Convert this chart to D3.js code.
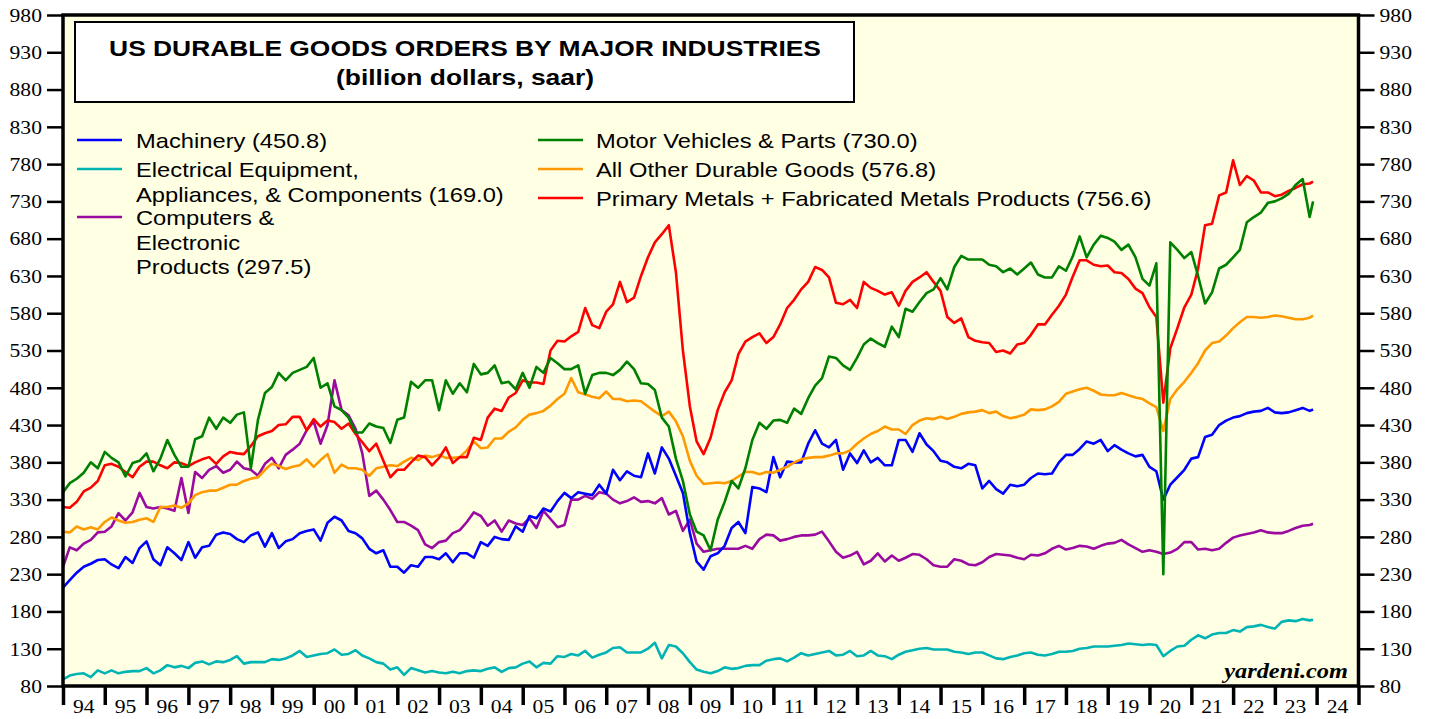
<!DOCTYPE html>
<html>
<head>
<meta charset="utf-8">
<script src="https://cdn.jsdelivr.net/npm/d3@7"></script>
<style>
  body { margin: 0; background: #fff; }
  svg { display: block; }
</style>
</head>
<body>
<svg id="chart"></svg>
<script>
// Readings: one value every two months (Jan, Mar, May, Jul, Sep, Nov)
// from 1994 to 2023, six per row = one year per row, and a last value for Dec 2023.
const machinery = [
  212, 222, 232, 240, 244, 249,
  250, 243, 238, 253, 245, 265,
  274, 250, 242, 266, 258, 249,
  273, 252, 266, 268, 283, 286,
  284, 277, 273, 282, 286, 267,
  285, 265, 274, 277, 285, 288,
  290, 275, 299, 307, 302, 288,
  285, 278, 264, 258, 262, 240,
  240, 232, 242, 240, 253, 253,
  250, 258, 246, 258, 258, 252,
  273, 268, 280, 277, 276, 294,
  287, 308, 305, 318, 314, 328,
  339, 332, 340, 338, 336, 350,
  338, 370, 356, 368, 362, 360,
  392, 365, 400, 385, 362, 339,
  285, 247, 236, 254, 258, 268,
  292, 300, 285, 347, 345, 340,
  387, 360, 381, 380, 380, 405,
  423, 405, 400, 410, 370, 392,
  379, 396, 380, 386, 376, 376,
  410, 410, 394, 419, 404, 395,
  382, 380, 374, 372, 378, 376,
  345, 355, 344, 338, 350, 348,
  350, 359, 365, 364, 365, 380,
  390, 390, 398, 408, 405, 410,
  395, 403, 397, 392, 388, 390,
  374, 368, 330, 350, 360, 370,
  385, 387, 414, 417, 430, 436,
  440, 442, 446, 448, 449, 453,
  447, 446, 447, 450, 453, 449,
  450.8
];
const electrical = [
  89, 94, 96, 97, 92, 101,
  97, 101, 97, 99, 100, 100,
  104, 97, 101, 108, 105, 107,
  104, 111, 113, 109, 113, 112,
  115, 120, 110, 112, 112, 112,
  116, 115, 117, 121, 127, 119,
  121, 123, 124, 129, 122, 123,
  128, 121, 117, 112, 110, 102,
  105, 95, 104, 101, 98, 100,
  98, 97, 99, 97, 100, 101,
  100, 103, 105, 99, 104, 105,
  110, 113, 105, 111, 110, 120,
  119, 123, 121, 127, 118, 122,
  125, 131, 132, 125, 125, 125,
  130, 138, 117, 135, 133, 124,
  112, 102, 99, 97, 100, 105,
  103, 104, 107, 108, 108, 114,
  116, 117, 113, 118, 124, 121,
  123, 125, 127, 121, 122, 127,
  120, 121, 127, 121, 120, 116,
  122, 126, 128, 130, 131, 129,
  129, 129, 126, 125, 123, 125,
  125, 121, 117, 116, 119, 121,
  124, 125, 122, 121, 123, 126,
  126, 127, 130, 131, 133, 133,
  133, 134, 135, 137, 136, 135,
  136, 135, 120, 127, 133, 134,
  142, 148, 144, 149, 151, 151,
  155, 153, 159, 160, 162, 159,
  157, 166, 168, 167, 170, 168,
  169.0
];
const computers = [
  240, 266, 262, 271, 276, 286,
  287, 294, 312, 302, 313, 339,
  320, 318, 320, 318, 315, 359,
  312, 367, 359, 370, 375, 366,
  370, 381, 372, 370, 362, 378,
  386, 372, 390, 397, 405, 423,
  435, 405, 430, 490, 450, 443,
  425, 392, 335, 342, 330, 316,
  300, 300, 295, 289, 270, 265,
  273, 275, 285, 289, 300, 313,
  308, 295, 302, 287, 302, 298,
  296, 305, 292, 315, 304, 293,
  296, 330, 330, 335, 331, 340,
  338, 330, 325, 328, 333, 327,
  328, 325, 332, 310, 315, 288,
  303, 271, 260, 262, 264, 264,
  264, 264, 268, 264, 277, 283,
  282, 275, 277, 280, 282, 282,
  283, 287, 274, 260, 252, 255,
  260, 243, 248, 258, 247, 255,
  248, 252, 257, 256, 250, 242,
  240, 240, 250, 248, 243, 242,
  246, 253, 257, 256, 255, 252,
  250, 256, 255, 258, 264, 268,
  263, 265, 268, 267, 264, 268,
  271, 272, 276, 270, 265, 260,
  262, 260, 257, 259, 264, 273,
  273, 263, 264, 262, 264, 272,
  279, 282, 284, 286, 289, 286,
  285, 285, 288, 292, 295, 296,
  297.5
];
const motorVehicles = [
  340, 352, 358, 366, 380, 372,
  394, 386, 380, 361, 379, 382,
  392, 368, 385, 410, 390, 374,
  374, 411, 415, 440, 425, 440,
  433, 444, 447, 372, 437, 473,
  481, 500, 490, 500, 504, 508,
  520, 480, 486, 455, 450, 440,
  420, 420, 432, 428, 426, 406,
  437, 440, 488, 480, 490, 490,
  450, 490, 472, 486, 474, 512,
  498, 500, 510, 486, 488, 478,
  500, 480, 508, 500, 520, 513,
  505, 505, 510, 472, 497, 500,
  500, 497, 504, 515, 505, 486,
  485, 477, 440, 428, 385, 355,
  310, 287, 282, 262, 303, 327,
  355, 345, 372, 410, 433, 425,
  436, 437, 433, 452, 445, 466,
  483, 493, 522, 520, 510, 504,
  520, 538, 546, 540, 535, 562,
  548, 586, 582, 595, 607, 612,
  627, 612, 642, 657, 652, 652,
  652, 645, 643, 635, 640, 632,
  640, 648, 632, 628, 628, 643,
  637, 656, 683, 655, 672, 684,
  681, 676, 665, 672, 655, 626,
  617, 647, 230, 675, 665, 654,
  662, 630, 593, 608, 640, 645,
  655, 665, 702, 709, 715, 728,
  730, 734, 740, 752, 760, 709,
  730.0
];
const allOther = [
  287, 286, 294, 290, 293, 290,
  300, 306, 302, 299, 300, 303,
  305, 300, 320, 320, 322, 319,
  325, 336, 340, 342, 342, 346,
  350, 350, 355, 358, 360, 370,
  378, 375, 371, 374, 376, 384,
  374, 383, 391, 366, 377, 372,
  372, 370, 362, 372, 374, 376,
  375, 381, 386, 383, 389, 387,
  390, 386, 386, 387, 396, 408,
  399, 400, 412, 412, 421, 427,
  437, 444, 446, 449, 456, 465,
  472, 493, 474, 471, 468, 466,
  475, 465, 465, 462, 463, 462,
  455, 448, 442, 448, 435, 415,
  382, 362, 351, 352, 353, 352,
  355, 361, 367, 367, 364, 367,
  366, 370, 374, 380, 384, 386,
  387, 387, 389, 392, 392, 396,
  405, 412, 418, 422, 428, 424,
  424, 418, 430, 436, 439, 438,
  441, 438, 441, 445, 447, 448,
  450, 446, 448, 442, 439, 441,
  444, 451, 450, 451, 455, 461,
  472, 475, 478, 480, 476, 471,
  470, 470, 473, 470, 467, 465,
  459, 454, 422, 465, 478, 488,
  500, 513, 530, 540, 542, 550,
  560, 568, 575, 575, 574, 575,
  577, 576, 574, 572, 572, 574,
  576.8
];
const metals = [
  320, 319, 327, 341, 346, 355,
  376, 378, 374, 367, 360, 374,
  381, 381, 376, 372, 380, 379,
  375, 380, 384, 387, 378, 388,
  394, 392, 391, 402, 415, 419,
  422, 430, 431, 441, 441, 423,
  438, 428, 436, 434, 425, 432,
  418, 407, 395, 405, 382, 360,
  370, 370, 380, 389, 387, 376,
  386, 400, 379, 387, 387, 413,
  410, 440, 452, 449, 467, 473,
  490, 487, 487, 485, 530, 543,
  542, 549, 555, 587, 564, 560,
  582, 592, 622, 595, 601, 630,
  655, 675, 686, 698, 635, 530,
  455, 408, 391, 413, 450, 474,
  490, 525, 542, 548, 553, 540,
  548, 565, 587, 598, 612, 622,
  642, 638, 628, 594, 592, 598,
  587, 622, 614, 610, 605, 608,
  590, 610, 622, 628, 635, 622,
  610, 575, 567, 573, 548, 543,
  541, 540, 528, 530, 526, 538,
  540, 551, 565, 565, 578, 590,
  605, 629, 651, 651, 645, 643,
  644, 635, 634, 626, 613, 607,
  588, 575, 460, 533, 560, 588,
  605, 640, 698, 700, 738, 742,
  785, 752, 764, 758, 742, 742,
  737, 739, 744, 748, 753, 754,
  756.6
];

const yTicks = d3.range(80, 981, 50);
const yearLabels = d3.range(1994, 2025);

const series = [
  { name: 'electrical', values: electrical, color: '#00b4b4' },
  { name: 'computers', values: computers, color: '#9a0aa0' },
  { name: 'machinery', values: machinery, color: '#0000ff' },
  { name: 'allOther', values: allOther, color: '#ff9900' },
  { name: 'metals', values: metals, color: '#ff0000' },
  { name: 'motorVehicles', values: motorVehicles, color: '#008000' }
];

const legendLeft = [
  { lines: ['Machinery (450.8)'], color: '#0000ff' },
  { lines: ['Electrical Equipment,', 'Appliances, & Components (169.0)'], color: '#00b4b4' },
  { lines: ['Computers &', 'Electronic', 'Products (297.5)'], color: '#9a0aa0' }
];
const legendRight = [
  { lines: ['Motor Vehicles & Parts (730.0)'], color: '#008000' },
  { lines: ['All Other Durable Goods (576.8)'], color: '#ff9900' },
  { lines: ['Primary Metals + Fabricated Metals Products (756.6)'], color: '#ff0000' }
];

// dates for the readings
const dates = machinery.map((d, i) => i < 180 ? new Date(1994, i * 2, 1) : new Date(2023, 11, 1));

const W = 1429, H = 719;
const plotLeft = 63, plotRight = 1358.5, plotTop = 15, plotBottom = 686;
const sans = '"Liberation Sans", Arial, sans-serif';
const serif = '"Liberation Serif", "Times New Roman", serif';
const stretch = 1.17; // the original text is drawn wider than it is tall

const svg = d3.select('#chart').attr('width', W).attr('height', H);

const x = d3.scaleTime()
  .domain([new Date(1994, 0, 1), new Date(2025, 0, 1)])
  .range([plotLeft, plotRight]);
const y = d3.scaleLinear().domain([80, 980]).range([plotBottom, plotTop]);

// plot background
svg.append('rect')
  .attr('x', plotLeft).attr('y', plotTop)
  .attr('width', plotRight - plotLeft).attr('height', plotBottom - plotTop)
  .attr('fill', '#ffffe3');

// left and right axes
function styleY(g, side) {
  g.select('.domain').remove();
  g.selectAll('.tick line').attr('stroke', '#000').attr('stroke-width', 2.5);
  g.selectAll('.tick text')
    .attr('x', null).attr('dy', '0.34em')
    .attr('transform', `translate(${side * 21},0) scale(${stretch},1)`)
    .attr('text-anchor', side < 0 ? 'end' : 'start')
    .style('font-family', serif).style('font-size', '18.5px').attr('fill', '#000');
}
svg.append('g')
  .attr('transform', `translate(${plotLeft},0)`)
  .call(d3.axisLeft(y).tickValues(yTicks).tickSize(16).tickFormat(d3.format('d')))
  .call(g => styleY(g, -1));
svg.append('g')
  .attr('transform', `translate(${plotRight},0)`)
  .call(d3.axisRight(y).tickValues(yTicks).tickSize(16).tickFormat(d3.format('d')))
  .call(g => styleY(g, 1));

// bottom axis: ticks at year starts, labels in the middle of each year
svg.append('g')
  .attr('transform', `translate(0,${plotBottom})`)
  .call(d3.axisBottom(x)
    .tickValues(d3.range(1994, 2026).map(yr => new Date(yr, 0, 1)))
    .tickSize(19).tickFormat(''))
  .call(g => g.select('.domain').remove())
  .call(g => g.selectAll('.tick line').attr('stroke', '#000').attr('stroke-width', 3.5));

svg.append('g').selectAll('text')
  .data(yearLabels)
  .join('text')
  .attr('transform', d => `translate(${x(new Date(d, 6, 1))},${plotBottom + 27}) scale(${stretch},1)`)
  .attr('text-anchor', 'middle')
  .style('font-family', serif).style('font-size', '18.5px')
  .text(d => d3.timeFormat('%y')(new Date(d, 0, 1)));

// lines
const line = d3.line()
  .x((d, i) => x(dates[i]))
  .y(d => y(d));

svg.append('g').selectAll('path')
  .data(series)
  .join('path')
  .attr('d', d => line(d.values))
  .attr('fill', 'none')
  .attr('stroke', d => d.color)
  .attr('stroke-width', 2.6)
  .attr('stroke-linejoin', 'round');

// frame
svg.append('rect')
  .attr('x', plotLeft).attr('y', plotTop)
  .attr('width', plotRight - plotLeft).attr('height', plotBottom - plotTop)
  .attr('fill', 'none').attr('stroke', '#000').attr('stroke-width', 3.5);

// title box
svg.append('rect')
  .attr('x', 75).attr('y', 22).attr('width', 779).attr('height', 80)
  .attr('fill', '#fff').attr('stroke', '#000').attr('stroke-width', 2);
const titleLines = ['US DURABLE GOODS ORDERS BY MAJOR INDUSTRIES', '(billion dollars, saar)'];
svg.append('g').selectAll('text')
  .data(titleLines)
  .join('text')
  .attr('transform', (d, i) => `translate(465,${56 + i * 29}) scale(1.2,1)`)
  .attr('text-anchor', 'middle')
  .style('font-family', sans).style('font-weight', 'bold').style('font-size', '22px')
  .text(d => d);

// legend
function drawLegend(entries, lineX, textX, baselines) {
  const g = svg.append('g');
  entries.forEach((e, k) => {
    g.append('line')
      .attr('x1', lineX).attr('x2', lineX + 45)
      .attr('y1', baselines[k] - 8).attr('y2', baselines[k] - 8)
      .attr('stroke', e.color).attr('stroke-width', 2.6);
    e.lines.forEach((t, j) => {
      g.append('text')
        .attr('transform', `translate(${textX},${baselines[k] + j * 24.5}) scale(1.13,1)`)
        .style('font-family', sans).style('font-size', '21px')
        .text(t);
    });
  });
}
drawLegend(legendLeft, 77, 136, [148, 177, 225]);
drawLegend(legendRight, 538, 596, [148, 177, 206]);

// source
svg.append('text')
  .attr('transform', `translate(1348,678) scale(1.16,1)`)
  .attr('text-anchor', 'end')
  .style('font-family', serif).style('font-weight', 'bold').style('font-style', 'italic')
  .style('font-size', '21px')
  .text('yardeni.com');
</script>
</body>
</html>
